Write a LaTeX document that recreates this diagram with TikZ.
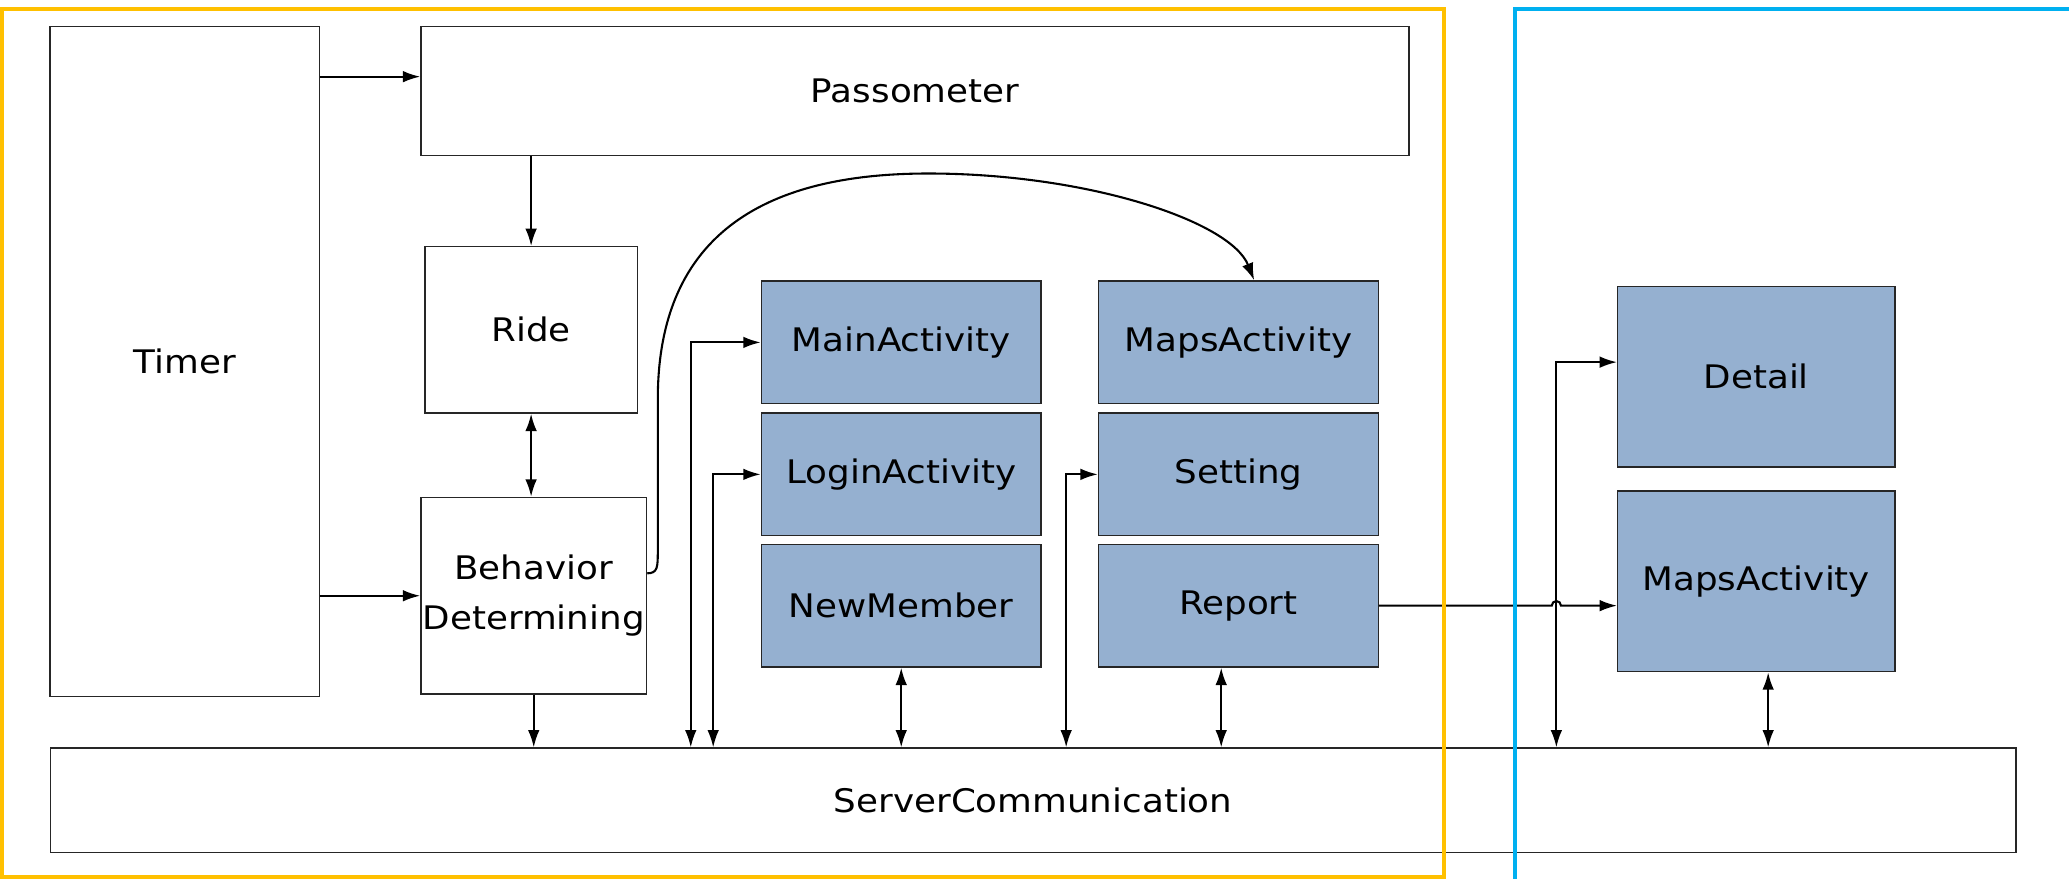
\documentclass[tikz,border=0pt]{standalone}
\usepackage{fontspec}
\setmainfont[FakeStretch=1.1]{DejaVu Sans}
\usepackage{xcolor}
\usepackage{tikz}
\usetikzlibrary{calc, arrows.meta, positioning}

\definecolor{actblue}{RGB}{149,176,208}
\definecolor{appframe}{RGB}{255,192,0}
\definecolor{webframe}{RGB}{0,176,240}

\tikzset{
    box/.style={draw=black!85, line width=0.6pt, inner sep=0pt, align=center,
        font=\fontsize{14}{21.5}\selectfont},
    actbox/.style={box, fill=actblue, minimum width=4.24cm, minimum height=1.86cm},
    sidebox/.style={box, fill=actblue, minimum width=4.2cm, minimum height=2.74cm},
    link/.style={line width=0.9pt},
    frame/.style={line width=1.7pt}
}

\begin{document}
\begin{tikzpicture}[x=0.02cm, y=0.02cm, >={Latex[length=7.5pt,width=5pt]}]
    \useasboundingbox (0,0) rectangle (1568,666);

    % 1. Các khối bên trái
    \node[box, minimum width=4.08cm, minimum height=10.16cm] (timer) at (140,392) {Timer};
    \node[box, minimum width=14.98cm, minimum height=1.96cm] (pass) at (693.5,597) {Passometer};
    \node[box, minimum width=3.22cm, minimum height=2.52cm] (ride) at (402.5,416) {Ride};
    \node[box, minimum width=3.42cm, minimum height=2.98cm] (behav) at (404.5,214.5) {Behavior\\Determining};

    % 2. Các Activity
    \node[actbox] (main) at (683,406.5) {MainActivity};
    \node[actbox] (login) at (683,306.5) {LoginActivity};
    \node[actbox] (newm) at (683,207) {NewMember};
    \node[actbox] (maps) at (938.5,406.5) {MapsActivity};
    \node[actbox] (setting) at (938.5,306.5) {Setting};
    \node[actbox] (report) at (938.5,207) {Report};

    % 3. Các khối bên phải
    \node[sidebox] (detail) at (1331,380.5) {Detail};
    \node[sidebox] (maps2) at (1331,225.5) {MapsActivity};

    % 4. Khối giao tiếp máy chủ
    \node[box, minimum width=29.8cm, minimum height=1.58cm] (server) at (783,59.5) {ServerCommunication};

    % 5. Các điểm phụ
    \coordinate (tp) at ($(pass.north west)!0.39!(pass.south west)$);
    \coordinate (mainbus) at ($(main.west)+(-53,0)$);
    \coordinate (loginbus) at ($(login.west)+(-36,0)$);
    \coordinate (setbus) at ($(setting.west)+(-24,0)$);
    \coordinate (repbus) at ($(report.south)+(-13,0)$);
    \coordinate (detin) at ($(detail.north west)!0.42!(detail.south west)$);
    \coordinate (detbus) at ($(detin)+(-46,0)$);
    \coordinate (mapbus) at ($(maps2.south)+(9,0)$);

    % 6. Mũi tên
    \draw[link, ->] (timer.east |- tp) -- (tp);
    \draw[link, ->] (timer.east |- behav.west) -- (behav.west);
    \draw[link, ->] (pass.south -| ride.north) -- (ride.north);
    \draw[link, <->] (ride.south) -- (ride.south |- behav.north);
    \draw[link, ->] (behav.south) -- (behav.south |- server.north);
    \draw[link, <->] (mainbus |- server.north) |- (main.west);
    \draw[link, <->] (loginbus |- server.north) |- (login.west);
    \draw[link, <->] (newm.south) -- (newm.south |- server.north);
    \draw[link, <->] (setbus |- server.north) |- (setting.west);
    \draw[link, <->] (repbus) -- (repbus |- server.north);
    \draw[link, <->] (detbus |- server.north) |- (detin);
    \draw[link, <->] (mapbus) -- (mapbus |- server.north);

    % Report -> MapsActivity, nhảy qua đường dọc
    \draw[link, ->] (report.east) -- ($(detbus |- report.east)+(-3.5,0)$)
        arc[start angle=180, end angle=0, radius=3.5] -- (maps2.west |- report.east);

    % Đường cong Behavior -> MapsActivity
    \draw[link, ->] ($(behav.east)+(0,17)$) .. controls +(8,0) and +(0,-12) .. ++(8,17)
        -- ++(0,115) .. controls +(0,135) and +(-110,0) .. ++(205,171)
        .. controls +(120,0) and +(-18,45) .. ($(maps.north)+(12,0)$);

    % 7. Khung
    \draw[frame, appframe] (1.5,1.5) rectangle (1094,659.5);
    \draw[frame, webframe] (1148,-20) rectangle (1620,659.5);
\end{tikzpicture}
\end{document}
